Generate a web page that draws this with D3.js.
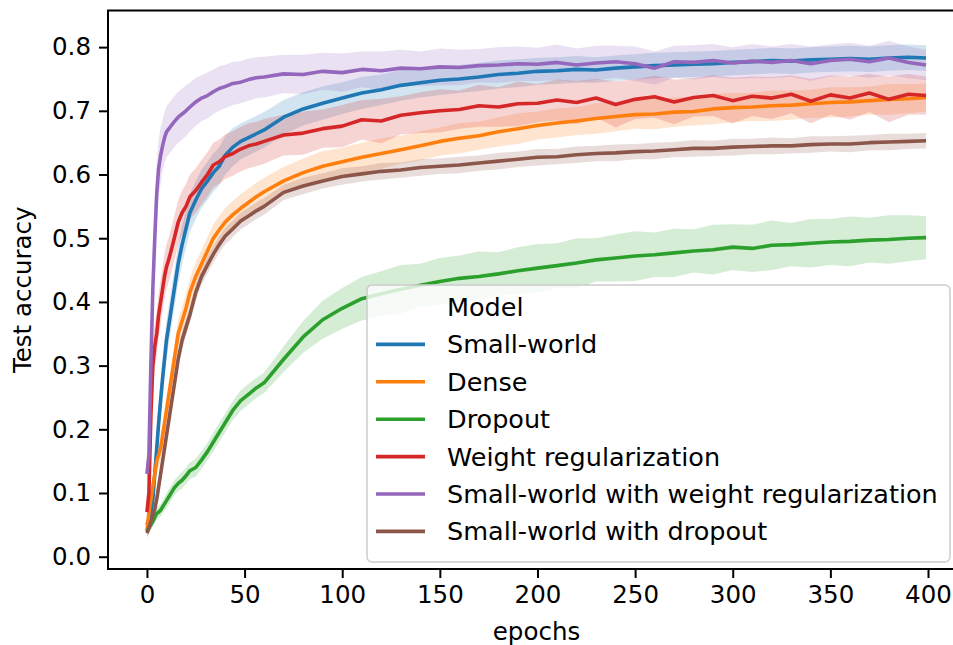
<!DOCTYPE html>
<html>
<head>
<meta charset="utf-8">
<script src="https://cdn.jsdelivr.net/npm/d3@7"></script>
<style>
  html, body { margin: 0; padding: 0; background: #fff; }
  svg text { font-family: "DejaVu Sans", sans-serif; fill: #000; }
</style>
</head>
<body>
<div id="chart"></div>
<script>
const epochs = [0,1,2,3,4,5,6,7,8,9,10,11,12,14,16,18,20,22,25,28,31,34,37,40,44,48,52,56,60,
  70,80,90,100,110,120,130,140,150,160,170,180,190,200,210,220,230,240,250,260,270,280,290,300,
  310,320,330,340,350,360,370,380,390,399];

const modelNames = ['Small-world', 'Dense', 'Dropout', 'Weight regularization',
  'Small-world with weight regularization', 'Small-world with dropout'];
const modelColors = ['#1f77b4', '#ff7f0e', '#2ca02c', '#d62728', '#9467bd', '#8c564b'];

// mean test accuracy per model
const smallWorld = [0.05,0.06,0.07,0.09,0.13,0.17,0.21,0.246,0.28,0.31,0.34,0.36,0.38,0.42,0.46,0.49,0.515,0.54,0.56,0.578,0.59,0.603,0.613,0.63,0.643,0.652,0.658,0.664,0.67,
  0.69,0.703,0.712,0.72,0.728,0.733,0.74,0.744,0.748,0.75,0.753,0.757,0.759,0.762,0.763,0.765,0.764,0.767,0.769,0.771,0.772,0.773,0.774,0.776,0.777,0.779,0.778,0.78,0.781,0.782,0.781,0.783,0.784,0.783];
const dense = [0.04,0.07,0.09,0.11,0.13,0.15,0.16,0.17,0.19,0.21,0.23,0.25,0.27,0.31,0.35,0.37,0.39,0.415,0.44,0.46,0.48,0.50,0.513,0.525,0.537,0.547,0.556,0.565,0.573,
  0.59,0.603,0.613,0.62,0.627,0.633,0.639,0.645,0.652,0.657,0.661,0.667,0.672,0.677,0.681,0.684,0.688,0.691,0.694,0.695,0.698,0.699,0.703,0.705,0.706,0.708,0.709,0.711,0.713,0.714,0.716,0.718,0.719,0.721];
const dropout = [0.04,0.045,0.05,0.055,0.062,0.068,0.07,0.073,0.078,0.083,0.088,0.093,0.098,0.108,0.115,0.12,0.127,0.135,0.14,0.152,0.165,0.18,0.195,0.21,0.23,0.245,0.255,0.265,0.273,
  0.31,0.345,0.372,0.39,0.405,0.413,0.42,0.426,0.432,0.437,0.44,0.444,0.449,0.453,0.457,0.461,0.466,0.469,0.472,0.474,0.477,0.48,0.482,0.486,0.484,0.489,0.49,0.492,0.494,0.495,0.497,0.498,0.5,0.501];
const weightReg = [0.07,0.10,0.22,0.30,0.33,0.35,0.38,0.40,0.42,0.44,0.455,0.465,0.476,0.50,0.525,0.54,0.55,0.565,0.575,0.588,0.60,0.615,0.62,0.628,0.633,0.64,0.645,0.648,0.652,
  0.662,0.665,0.672,0.676,0.686,0.684,0.693,0.697,0.70,0.702,0.708,0.706,0.711,0.712,0.717,0.713,0.72,0.71,0.718,0.722,0.714,0.721,0.724,0.716,0.723,0.72,0.726,0.715,0.725,0.72,0.728,0.718,0.726,0.724];
const smallWorldWeightReg = [0.13,0.16,0.30,0.42,0.50,0.57,0.61,0.63,0.645,0.658,0.667,0.671,0.675,0.683,0.69,0.695,0.70,0.706,0.714,0.72,0.724,0.73,0.735,0.738,0.743,0.745,0.749,0.752,0.753,
  0.758,0.757,0.762,0.76,0.765,0.763,0.767,0.766,0.769,0.768,0.771,0.772,0.774,0.773,0.776,0.772,0.775,0.777,0.774,0.767,0.777,0.776,0.779,0.775,0.778,0.776,0.779,0.774,0.779,0.781,0.777,0.783,0.776,0.772];
const smallWorldDropout = [0.037,0.045,0.055,0.065,0.075,0.09,0.11,0.13,0.15,0.17,0.19,0.21,0.23,0.27,0.31,0.34,0.36,0.38,0.415,0.44,0.458,0.475,0.49,0.503,0.515,0.527,0.535,0.543,0.55,
  0.572,0.582,0.59,0.597,0.601,0.605,0.607,0.611,0.613,0.615,0.618,0.621,0.624,0.627,0.628,0.631,0.633,0.634,0.636,0.637,0.639,0.641,0.641,0.643,0.644,0.645,0.645,0.647,0.648,0.648,0.65,0.651,0.652,0.653];

// half width of the shaded band per model
const smallWorldSpread = [0.01,0.01,0.015,0.02,0.025,0.03,0.03,0.03,0.03,0.03,0.03,0.03,0.03,0.03,0.03,0.03,0.03,0.03,0.03,0.03,0.03,0.03,0.03,0.03,0.03,0.028,0.028,0.028,0.028,
  0.027,0.026,0.026,0.025,0.025,0.024,0.024,0.023,0.023,0.022,0.022,0.022,0.022,0.021,0.021,0.021,0.02,0.02,0.02,0.02,0.02,0.02,0.02,0.02,0.02,0.02,0.02,0.02,0.02,0.02,0.02,0.02,0.02,0.02];
const denseSpread = [0.01,0.01,0.015,0.015,0.02,0.02,0.02,0.02,0.02,0.02,0.02,0.02,0.02,0.022,0.022,0.022,0.022,0.022,0.022,0.022,0.022,0.022,0.022,0.022,0.022,0.022,0.022,0.022,0.022,
  0.022,0.022,0.024,0.022,0.023,0.024,0.022,0.023,0.022,0.024,0.022,0.023,0.024,0.022,0.023,0.022,0.024,0.023,0.022,0.024,0.023,0.022,0.024,0.023,0.022,0.024,0.023,0.022,0.024,0.023,0.022,0.024,0.023,0.022];
const dropoutSpread = [0.008,0.008,0.008,0.008,0.008,0.01,0.01,0.01,0.01,0.01,0.012,0.012,0.012,0.012,0.012,0.013,0.013,0.013,0.014,0.014,0.014,0.015,0.015,0.015,0.015,0.016,0.016,0.016,0.016,
  0.02,0.025,0.03,0.032,0.034,0.035,0.038,0.034,0.037,0.036,0.039,0.034,0.037,0.038,0.035,0.039,0.034,0.037,0.039,0.035,0.038,0.034,0.039,0.036,0.037,0.039,0.034,0.038,0.036,0.039,0.035,0.038,0.036,0.034];
const weightRegSpread = [0.015,0.02,0.04,0.04,0.035,0.035,0.035,0.035,0.035,0.035,0.035,0.035,0.035,0.035,0.035,0.035,0.035,0.035,0.035,0.035,0.035,0.035,0.035,0.035,0.035,0.035,0.035,0.035,0.035,
  0.032,0.034,0.03,0.033,0.031,0.035,0.03,0.032,0.034,0.03,0.033,0.031,0.035,0.03,0.032,0.034,0.03,0.036,0.031,0.033,0.035,0.03,0.032,0.036,0.031,0.033,0.03,0.035,0.031,0.034,0.03,0.036,0.032,0.03];
const smallWorldWeightRegSpread = [0.02,0.03,0.05,0.06,0.06,0.05,0.045,0.045,0.04,0.04,0.04,0.04,0.04,0.04,0.04,0.04,0.04,0.038,0.038,0.036,0.036,0.035,0.035,0.034,0.034,0.033,0.033,0.032,0.032,
  0.03,0.031,0.029,0.03,0.028,0.03,0.029,0.027,0.029,0.028,0.026,0.028,0.027,0.026,0.028,0.026,0.027,0.025,0.027,0.026,0.025,0.027,0.026,0.025,0.027,0.025,0.026,0.027,0.025,0.026,0.025,0.027,0.025,0.024];
const smallWorldDropoutSpread = [0.008,0.008,0.01,0.01,0.012,0.012,0.012,0.012,0.012,0.012,0.012,0.012,0.012,0.013,0.013,0.013,0.013,0.013,0.013,0.013,0.013,0.013,0.013,0.013,0.013,0.013,0.013,0.013,0.013,
  0.012,0.013,0.012,0.013,0.012,0.013,0.012,0.013,0.012,0.013,0.012,0.013,0.012,0.013,0.012,0.013,0.012,0.013,0.012,0.013,0.012,0.013,0.012,0.013,0.012,0.013,0.012,0.013,0.012,0.013,0.012,0.013,0.012,0.012];

const xTicks = [0, 50, 100, 150, 200, 250, 300, 350, 400];
const yTicks = [0.0, 0.1, 0.2, 0.3, 0.4, 0.5, 0.6, 0.7, 0.8];

const seriesMeans = [smallWorld, dense, dropout, weightReg, smallWorldWeightReg, smallWorldDropout];
const seriesSpreads = [smallWorldSpread, denseSpread, dropoutSpread, weightRegSpread,
  smallWorldWeightRegSpread, smallWorldDropoutSpread];

function renderChart() {
  const width = 953, height = 645;
  const left = 108, right = 965, top = 10.5, bottom = 569;
  const fs = 24.5;

  const svg = d3.select('#chart').append('svg')
    .attr('width', width)
    .attr('height', height);

  const x = d3.scaleLinear().domain([-19.95, 418.95]).range([left, right]);
  const y = d3.scaleLinear().domain([-0.0193, 0.8575]).range([bottom, top]);

  svg.append('defs').append('clipPath').attr('id', 'plot-clip')
    .append('rect')
    .attr('x', left).attr('y', top)
    .attr('width', right - left).attr('height', bottom - top);

  const series = modelNames.map((name, i) => ({
    name,
    color: modelColors[i],
    points: epochs.map((e, j) => ({ e, m: seriesMeans[i][j], s: seriesSpreads[i][j] })),
  }));

  const plot = svg.append('g').attr('clip-path', 'url(#plot-clip)');

  // bands first (zorder 1), then lines on top
  const area = d3.area()
    .x(d => x(d.e))
    .y0(d => y(d.m - d.s))
    .y1(d => y(d.m + d.s));
  plot.selectAll('path.band')
    .data(series)
    .join('path')
    .attr('class', 'band')
    .attr('d', d => area(d.points))
    .attr('fill', d => d.color)
    .attr('fill-opacity', 0.2);

  const line = d3.line().x(d => x(d.e)).y(d => y(d.m));
  plot.selectAll('path.line')
    .data(series)
    .join('path')
    .attr('class', 'line')
    .attr('d', d => line(d.points))
    .attr('fill', 'none')
    .attr('stroke', d => d.color)
    .attr('stroke-width', 3.6)
    .attr('stroke-linejoin', 'round');

  // Axes
  const xAxis = svg.append('g')
    .attr('transform', `translate(0,${bottom})`)
    .call(d3.axisBottom(x).tickValues(xTicks).tickSize(9).tickPadding(8).tickFormat(d3.format('d')));
  const yAxis = svg.append('g')
    .attr('transform', `translate(${left},0)`)
    .call(d3.axisLeft(y).tickValues(yTicks).tickSize(9).tickPadding(8).tickFormat(d3.format('.1f')));

  [xAxis, yAxis].forEach(a => {
    a.select('.domain').remove();
    a.selectAll('.tick line').attr('stroke', '#000').attr('stroke-width', 2);
    a.selectAll('.tick text').style('font-size', fs + 'px').attr('fill', '#000');
  });

  // Spines (right one falls outside the window)
  svg.append('rect')
    .attr('x', left).attr('y', top)
    .attr('width', right - left).attr('height', bottom - top)
    .attr('fill', 'none')
    .attr('stroke', '#000')
    .attr('stroke-width', 2);

  svg.append('text')
    .attr('x', (left + right) / 2)
    .attr('y', 640)
    .attr('text-anchor', 'middle')
    .style('font-size', fs + 'px')
    .text('epochs');

  svg.append('text')
    .attr('transform', `translate(31,${(top + bottom) / 2}) rotate(-90)`)
    .attr('text-anchor', 'middle')
    .style('font-size', fs + 'px')
    .text('Test accuracy');

  // Legend
  const legend = svg.append('g');
  legend.append('rect')
    .attr('x', 367).attr('y', 285)
    .attr('width', 583).attr('height', 277)
    .attr('rx', 5)
    .attr('fill', '#fff').attr('fill-opacity', 0.8)
    .attr('stroke', '#cccccc').attr('stroke-width', 1.5);

  const rowH = 37.4;
  const firstRow = 307;
  legend.append('text')
    .attr('x', 447).attr('y', firstRow)
    .attr('dy', '0.35em')
    .style('font-size', '25.5px')
    .text('Model');

  series.forEach((d, i) => {
    const cy = firstRow + (i + 1) * rowH;
    legend.append('line')
      .attr('x1', 376).attr('x2', 425)
      .attr('y1', cy).attr('y2', cy)
      .attr('stroke', d.color)
      .attr('stroke-width', 3.6);
    legend.append('text')
      .attr('x', 447).attr('y', cy)
      .attr('dy', '0.35em')
      .style('font-size', '25.5px')
      .text(d.name);
  });
}

renderChart();
</script>
</body>
</html>
